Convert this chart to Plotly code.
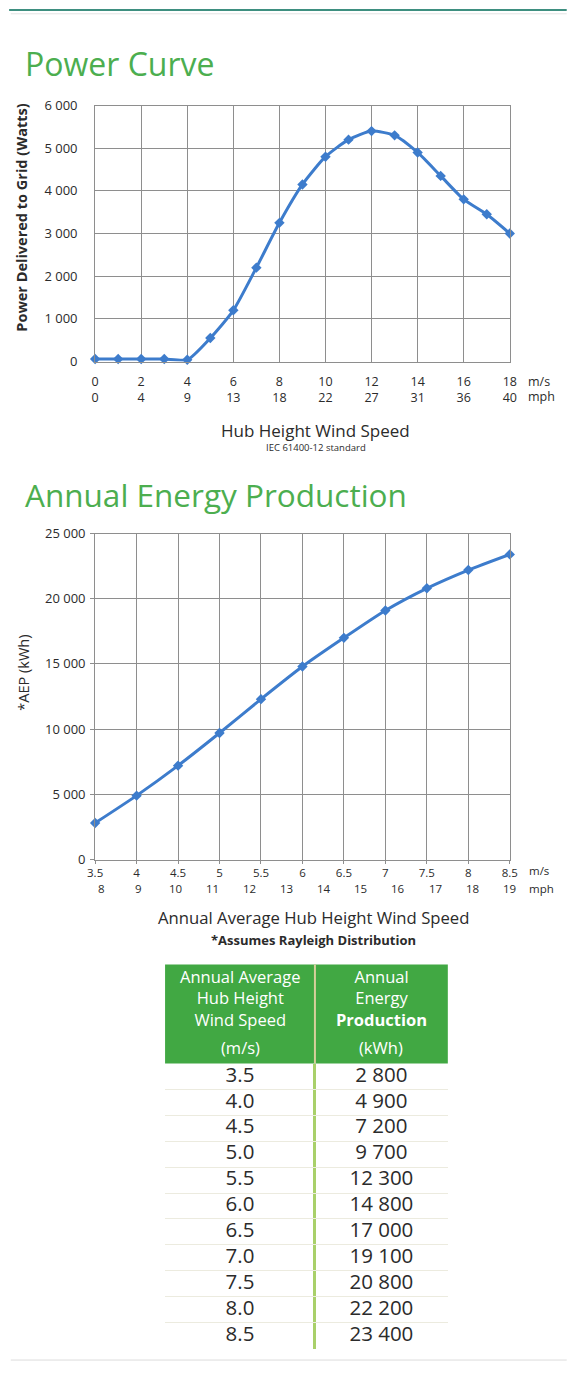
import plotly.graph_objects as go

# ---------------- data ----------------
pc_speed_ms = list(range(0, 19))
pc_power_w = [60, 60, 60, 60, 40, 550, 1200, 2200, 3250, 4150, 4800, 5200, 5400, 5300, 4900, 4350, 3800, 3450, 3000]
pc_tick_ms = [0, 2, 4, 6, 8, 10, 12, 14, 16, 18]
pc_tick_mph = [0, 4, 9, 13, 18, 22, 27, 31, 36, 40]

aep_speed_ms = [3.5, 4.0, 4.5, 5.0, 5.5, 6.0, 6.5, 7.0, 7.5, 8.0, 8.5]
aep_kwh = [2800, 4900, 7200, 9700, 12300, 14800, 17000, 19100, 20800, 22200, 23400]
aep_tick_ms_text = ["3.5", "4", "4.5", "5", "5.5", "6", "6.5", "7", "7.5", "8", "8.5"]
aep_tick_mph = [8, 9, 10, 11, 12, 13, 14, 15, 16, 17, 18, 19]
MPH_PER_MS = 2.237

table_speed_text = ["3.5", "4.0", "4.5", "5.0", "5.5", "6.0", "6.5", "7.0", "7.5", "8.0", "8.5"]
table_energy_text = ["2 800", "4 900", "7 200", "9 700", "12 300", "14 800", "17 000", "19 100", "20 800", "22 200", "23 400"]
header_left = ["Annual Average", "Hub Height", "Wind Speed"]
header_left_unit = "(m/s)"
header_right = ["Annual", "Energy", "<b>Production</b>"]
header_right_unit = "(kWh)"

# ---------------- layout helpers ----------------
W, H = 575, 1388
# target positions (reference pixels) -> figure fractions, compensating the capture offset/scale
def DX(p):
    return (p - 7.8) / 0.973
def DY(p):
    return (p - 8.5) / 0.987
def px(p):
    return DX(p) / W
def py(p):
    return 1 - DY(p) / H

FONT = "Open Sans"
GREEN_TITLE = "#4cae4f"
GREEN_HEAD = "#41a843"
BLUE = "#3d7ccc"
GRID = "#8e8e8e"
TXT = "#2b2b2b"

fig = go.Figure()

fig.add_trace(go.Scatter(
    x=pc_speed_ms, y=pc_power_w, mode="lines+markers",
    line=dict(color=BLUE, width=3, shape="spline", smoothing=0.6),
    marker=dict(symbol="diamond", size=8, color=BLUE),
    cliponaxis=False, xaxis="x", yaxis="y", showlegend=False))

fig.add_trace(go.Scatter(
    x=aep_speed_ms, y=aep_kwh, mode="lines+markers",
    line=dict(color=BLUE, width=3, shape="spline", smoothing=0.6),
    marker=dict(symbol="diamond", size=8, color=BLUE),
    cliponaxis=False, xaxis="x2", yaxis="y2", showlegend=False))

col_w = [150, 133]
col_center = [col_w[0] / 2, col_w[0] + col_w[1] / 2]
rows = [i + 0.5 for i in range(len(table_speed_text))]
for xc, texts in ((col_center[0], table_speed_text), (col_center[1], table_energy_text)):
    fig.add_trace(go.Scatter(
        x=[xc] * len(rows), y=rows, text=texts, mode="text",
        textfont=dict(family=FONT, size=20.5, color=TXT), xaxis="x3", yaxis="y3",
        showlegend=False, hoverinfo="skip"))

TICKFONT = dict(family=FONT, size=13, color=TXT)
axis_common = dict(showgrid=True, gridcolor=GRID, gridwidth=1, showline=True,
                   linecolor=GRID, linewidth=1, mirror=True, zeroline=False,
                   fixedrange=True)

fig.update_layout(
    width=W, height=H, margin=dict(l=0, r=0, t=0, b=0),
    paper_bgcolor="white", plot_bgcolor="white",
    separators=". ",
    font=dict(family=FONT, color=TXT),
    xaxis=dict(domain=[px(95), px(510)], range=[0, 18], anchor="y",
               tickvals=pc_tick_ms,
               ticktext=[f"{a}<br>{b}" for a, b in zip(pc_tick_ms, pc_tick_mph)],
               ticks="", ticklabelstandoff=8, tickfont=dict(family=FONT, size=12.5, color=TXT),
               **axis_common),
    yaxis=dict(domain=[py(361), py(105)], range=[0, 6000], anchor="x",
               dtick=1000, tickformat=",d", ticks="", ticklabelstandoff=14,
               tickfont=TICKFONT, **axis_common),
    xaxis2=dict(domain=[px(95), px(510)], range=[3.5, 8.5], anchor="y2",
                tickvals=aep_speed_ms, ticktext=aep_tick_ms_text,
                ticks="outside", ticklen=3, tickcolor=GRID, ticklabelstandoff=0,
                tickfont=dict(family=FONT, size=11.5, color=TXT), **axis_common),
    yaxis2=dict(domain=[py(859), py(533)], range=[0, 25000], anchor="x2",
                dtick=5000, tickformat=",d", ticks="outside", ticklen=4, tickcolor=GRID,
                ticklabelstandoff=2, tickfont=TICKFONT, **axis_common),
    xaxis3=dict(domain=[px(165), px(448)], range=[0, sum(col_w)], anchor="y3",
                tickvals=[col_w[0]], showgrid=True, gridcolor="#a9d06a", gridwidth=3,
                showticklabels=False, ticks="", zeroline=False, showline=False, fixedrange=True),
    yaxis3=dict(domain=[py(1348), py(1063)], range=[len(rows), 0], anchor="x3",
                tickvals=list(range(1, len(rows) + 1)), showgrid=True, gridcolor="#ecebdf",
                gridwidth=1, showticklabels=False, ticks="", zeroline=False, showline=False,
                fixedrange=True),
)

ann = []
def A(text, x, y, size, color=TXT, xanchor="center", yanchor="middle", xref="paper", yref="paper", **kw):
    ann.append(dict(text=text, x=x, y=y, xref=xref, yref=yref, showarrow=False,
                    xanchor=xanchor, yanchor=yanchor,
                    font=dict(family=FONT, size=size, color=color), **kw))

A("Power Curve", px(23), py(63), 32, GREEN_TITLE, xanchor="left")
A("<b>Power Delivered to Grid (Watts)</b>", px(21), py(217), 14.5, textangle=-90)
A("m/s", px(526), py(381), 12.5, xanchor="left")
A("mph", px(526), py(396), 12.5, xanchor="left")
A("Hub Height Wind Speed", px(316), py(430), 17)
A("IEC 61400-12 standard", px(316), py(447), 9.5)

A("Annual Energy Production", px(23), py(494), 31.5, GREEN_TITLE, xanchor="left")
A("*AEP (kWh)", px(23), py(672), 14.5, textangle=-90)
for m in aep_tick_mph:
    A(str(m), m / MPH_PER_MS, py(888), 11.5, xref="x2")
A("m/s", px(527), py(870), 11.5, xanchor="left")
A("mph", px(527), py(888), 11.5, xanchor="left")
A("Annual Average Hub Height Wind Speed", px(314), py(917), 16.7)
A("<b>*Assumes Rayleigh Distribution</b>", px(314), py(939), 13)

A("<br>".join(header_left), col_center[0], py(997), 16.5, "white", xref="x3")
A(header_left_unit, col_center[0], py(1047), 16.5, "white", xref="x3")
A("<br>".join(header_right), col_center[1], py(997), 16.5, "white", xref="x3")
A(header_right_unit, col_center[1], py(1047), 16.5, "white", xref="x3")

shapes = [
    dict(type="line", xref="paper", yref="paper", x0=0.002, x1=0.9995, y0=0.9993, y1=0.9993,
         line=dict(color="#3e8f80", width=2)),
    dict(type="line", xref="paper", yref="paper", x0=0.005, x1=0.9995, y0=0.9965, y1=0.9965,
         line=dict(color="#e3e3e3", width=1)),
    dict(type="line", xref="paper", yref="paper", x0=0.005, x1=0.9995, y0=py(1359.5), y1=py(1359.5),
         line=dict(color="#dcdcdc", width=1)),
    dict(type="rect", xref="paper", yref="paper", x0=px(165), x1=px(448), y0=py(1063), y1=py(964),
         fillcolor=GREEN_HEAD, line=dict(width=0), layer="below"),
    dict(type="line", xref="x3", yref="paper", x0=col_w[0], x1=col_w[0], y0=py(1063), y1=py(964),
         line=dict(color="#d6cf9c", width=2)),
]

fig.update_layout(annotations=ann, shapes=shapes)

fig.write_html("out.html", config={"displayModeBar": False},
               post_script="document.body.style.margin='0';document.body.style.overflow='hidden';")
